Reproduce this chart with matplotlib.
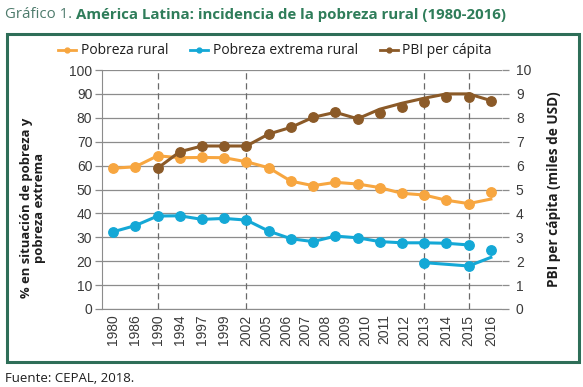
#!/usr/bin/env python3

import matplotlib.pyplot as plt
import numpy as np
from matplotlib.lines import Line2D
from matplotlib.patches import Rectangle

# Etiquetas del eje horizontal (19 años, aunque hay 18 posiciones de datos)
YEAR_LABELS = [
    "1980", "1986", "1990", "1994", "1997", "1999", "2002", "2005", "2006",
    "2007", "2008", "2009", "2010", "2011", "2012", "2013", "2014", "2015", "2016",
]

# Pobreza rural (%), línea completa; el último valor es el final de la línea
pobreza_rural = [58.9, 59.5, 64.1, 63.3, 63.4, 63.3, 61.6, 59.1, 53.5,
                 51.6, 53.0, 52.3, 50.8, 48.4, 47.7, 45.5, 44.1, 46.0]
pobreza_rural_punto_final = 49.1

# Pobreza extrema rural (%), serie anterior
pobreza_extrema = [32.3, 34.9, 38.9, 39.0, 37.5, 37.9, 37.2, 32.6, 29.4,
                   28.2, 30.5, 29.8, 28.2, 27.7, 27.7, 27.5, 26.8]
# Serie nueva (2013, 2015, 2016)
pobreza_extrema_nueva = [19.4, 18.0, 21.6]
pobreza_extrema_punto_final = 24.7

# PBI per cápita (miles de USD): línea suavizada y marcadores
pbi_linea = [np.nan, np.nan, 5.89, 6.58, 6.82, 6.82, 6.82, 7.32, 7.60,
             8.02, 8.23, 7.96, 8.36, 8.61, 8.82, 9.00, 9.00, 8.72]
pbi_puntos = [np.nan, np.nan, 5.89, 6.58, 6.82, 6.82, 6.82, 7.32, 7.60,
              8.02, 8.23, 7.96, 8.19, 8.47, 8.68, 8.86, 8.86, 8.72]

ORANGE = "#F7A640"
BLUE = "#14A8D6"
BROWN = "#8B5A28"
GREEN = "#2E6E58"
GRID = "#8C8C8C"
TEXT = "#3A3A3A"

plt.rcParams["font.family"] = ["Open Sans", "DejaVu Sans"]

fig = plt.figure(figsize=(5.83, 3.87), dpi=100)
ax = fig.add_axes([102 / 583, 1 - 309 / 387, 400 / 583, 239 / 387])
ax2 = ax.twinx()

n = len(pobreza_rural)
x = np.arange(n)

# posiciones de las etiquetas: las 8 de 2005-2012 se reparten entre 2002 y 2013
label_pos = np.concatenate([np.arange(7), 6 + np.arange(1, 9) * 8 / 9, [14, 15, 16, 17]])

lw = 2.2
ms = 6.8

# Pobreza rural
ax.plot(x, pobreza_rural, color=ORANGE, lw=lw, marker="o", ms=ms,
        markevery=list(range(n - 1)), zorder=4)
ax.plot(x[-1], pobreza_rural_punto_final, "o", color=ORANGE, ms=ms, zorder=4)

# Pobreza extrema rural
ax.plot(x[:len(pobreza_extrema)], pobreza_extrema, color=BLUE, lw=lw,
        marker="o", ms=ms, zorder=4)
x_nueva = [14, 16, 17]
ax.plot(x_nueva, pobreza_extrema_nueva, color=BLUE, lw=lw, marker="o", ms=ms,
        markevery=[0, 1], zorder=4)
ax.plot(x[-1], pobreza_extrema_punto_final, "o", color=BLUE, ms=ms, zorder=4)

# PBI per cápita
ax2.plot(x, pbi_linea, color=BROWN, lw=lw, zorder=4)
ax2.plot(x, pbi_puntos, "o", color=BROWN, ms=ms, zorder=4)

# líneas verticales discontinuas
for i in [2, 6, 14, 16]:
    ax.axvline(i, color="#6A6A6A", lw=0.9, ls=(0, (5, 3)), zorder=2)

ax.set_xlim(-0.5, n - 0.5)
ax.set_ylim(0, 100)
ax2.set_ylim(0, 10)
ax.set_yticks(np.arange(0, 101, 10))
ax2.set_yticks(np.arange(0, 11, 1))
ax.yaxis.grid(True, color=GRID, lw=0.9)
ax.set_axisbelow(True)

ax.set_xticks(label_pos)
ax.set_xticklabels(YEAR_LABELS, rotation=90, family=["Liberation Sans"],
                   fontsize=10, color=TEXT)
ax.tick_params(axis="x", length=0, pad=4)
ax.tick_params(axis="y", length=5, width=0.9, color=GRID, pad=2,
               labelsize=10, labelcolor=TEXT)
ax2.tick_params(axis="y", length=5, width=0.9, color=GRID, pad=5,
                labelsize=10, labelcolor=TEXT)
for lab in ax.get_yticklabels() + ax2.get_yticklabels():
    lab.set_family(["Liberation Sans"])

for a in (ax, ax2):
    a.spines["top"].set_visible(False)
    a.spines["right"].set_visible(False)
ax2.spines["left"].set_visible(False)
ax2.spines["bottom"].set_visible(False)
ax.spines["left"].set_color(GRID)
ax.spines["bottom"].set_color(GRID)

# etiquetas de los ejes
fig.text(33 / 583, 1 - 208 / 387, "% en situación de pobreza y\npobreza extrema",
         rotation=90, ha="center", va="center", ma="center",
         fontsize=9.4, fontweight="bold", color="#1E1E1E", linespacing=1.0)
fig.text(554 / 583, 1 - 189 / 387, "PBI per cápita (miles de USD)",
         rotation=90, ha="center", va="center",
         fontsize=9.8, fontweight="bold", color="#1E1E1E")

# leyenda
handles = [
    Line2D([], [], color=ORANGE, lw=2, marker="o", ms=3.5),
    Line2D([], [], color=BLUE, lw=2, marker="o", ms=3.5),
    Line2D([], [], color=BROWN, lw=2, marker="o", ms=3.5),
]
fig.legend(handles, ["Pobreza rural", "Pobreza extrema rural", "PBI per cápita"],
           loc="center", bbox_to_anchor=(275 / 583, 1 - 51 / 387), ncol=3,
           frameon=False, fontsize=10, handlelength=1.3, handletextpad=0.3,
           columnspacing=1.6, labelcolor="#1E1E1E")

# título en dos partes
t1 = fig.text(5 / 583, 1 - 15 / 387, "Gráfico 1.", fontsize=10.8,
              color="#4E7B6C", va="center", ha="left")
renderer = fig.canvas.get_renderer()
bb = t1.get_window_extent(renderer)
fig.text((bb.x1 + 4) / fig.bbox.width, 1 - 15 / 387,
         "América Latina: incidencia de la pobreza rural (1980-2016)",
         fontsize=10.8, fontweight="bold", color="#2F7D5A", va="center", ha="left")

# marco verde
fig.patches.append(Rectangle((7 / 583, 1 - 362 / 387), 572 / 583, 328 / 387,
                             transform=fig.transFigure, fill=False,
                             edgecolor=GREEN, lw=2.2))

fig.text(5 / 583, 1 - 378 / 387, "Fuente: CEPAL, 2018.", fontsize=9.5,
         color="#1E1E1E", va="center", ha="left")

fig.savefig("out.png", dpi=100)
